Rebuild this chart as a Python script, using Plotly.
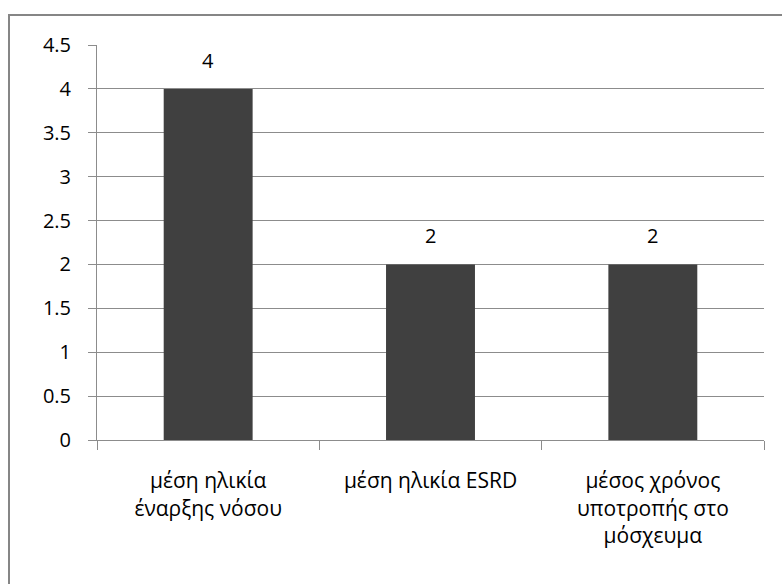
import plotly.graph_objects as go

categories = [
    "μέση ηλικία<br>έναρξης νόσου",
    "μέση ηλικία ESRD",
    "μέσος χρόνος<br>υποτροπής στο<br>μόσχευμα",
]
values = [4, 2, 2]
y_ticks = [0, 0.5, 1, 1.5, 2, 2.5, 3, 3.5, 4, 4.5]
y_tick_labels = ["0", "0.5", "1", "1.5", "2", "2.5", "3", "3.5", "4", "4.5"]

W, H = 782, 584
ML, MR, MT, MB = 97, 18, 45, 144
pw, ph = W - ML - MR, H - MT - MB

font_family = "Open Sans, Noto Sans, sans-serif"
FS = 20

fig = go.Figure(
    go.Bar(
        x=categories,
        y=values,
        marker=dict(color="#404040", line=dict(width=0)),
        width=0.4,
        hoverinfo="x+y",
    )
)

# value labels above each bar
for c, v in zip(categories, values):
    fig.add_annotation(
        x=c, y=v, xref="x", yref="y",
        text=str(v), showarrow=False,
        yanchor="bottom", yshift=13,
        font=dict(size=FS, family=font_family, color="#000000"),
    )

# outer chart-area frame (open on the right and bottom edges of the page)
fx0 = (9 - ML) / pw
fx1 = (790 - ML) / pw
fy1 = (MT + ph - 15) / ph
fy0 = (MT + ph - 600) / ph

fig.update_layout(
    width=W,
    height=H,
    margin=dict(l=ML, r=MR, t=MT, b=MB),
    paper_bgcolor="white",
    plot_bgcolor="white",
    showlegend=False,
    font=dict(family=font_family, size=FS, color="#000000"),
    shapes=[
        dict(
            type="rect", xref="paper", yref="paper",
            x0=fx0, x1=fx1, y0=fy0, y1=fy1,
            line=dict(color="#868686", width=2),
            fillcolor="rgba(0,0,0,0)", layer="below",
        )
    ],
)

fig.update_xaxes(
    showline=True,
    linecolor="#8c8c8c",
    linewidth=1,
    ticks="outside",
    tickson="boundaries",
    ticklen=9,
    tickcolor="#8c8c8c",
    showgrid=False,
    ticklabelstandoff=22,
    tickfont=dict(size=21, family=font_family, color="#000000"),
)

fig.update_yaxes(
    range=[0, 4.5],
    tickmode="array",
    tickvals=y_ticks,
    ticktext=y_tick_labels,
    showline=True,
    linecolor="#8c8c8c",
    linewidth=1,
    ticks="outside",
    ticklen=8,
    tickcolor="#8c8c8c",
    showgrid=True,
    gridcolor="#8c8c8c",
    gridwidth=1,
    zeroline=False,
    ticklabelstandoff=13,
    tickfont=dict(size=FS, family=font_family, color="#000000"),
)

fig.write_html("out.html")
